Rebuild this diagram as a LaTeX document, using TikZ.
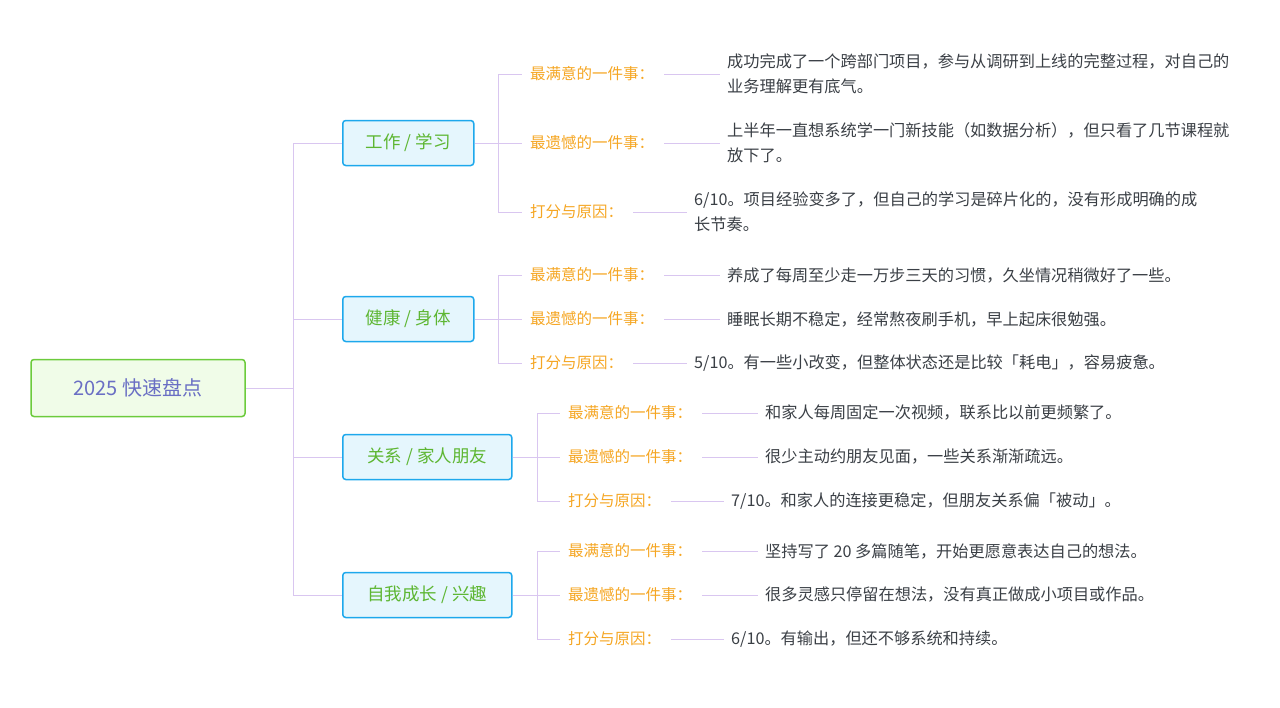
\documentclass[tikz,border=0pt]{standalone}
\usepackage{fontspec}
\setmainfont{Noto Sans CJK SC}
\definecolor{ln}{HTML}{D9C6F0}
\definecolor{rootb}{HTML}{6CCB3C}
\definecolor{rootf}{HTML}{F0FCE8}
\definecolor{roott}{HTML}{6A6FC4}
\definecolor{brb}{HTML}{1DA8EC}
\definecolor{brf}{HTML}{E5F6FD}
\definecolor{brt}{HTML}{5DB632}
\definecolor{lab}{HTML}{F5A623}
\definecolor{txt}{HTML}{3A3F45}
\begin{document}
\begin{tikzpicture}[x=1pt,y=-1pt,
 root/.style={draw=rootb,fill=rootf,line width=1.5pt,rounded corners=3pt,minimum width=214pt,minimum height=57pt,text=roott,font=\fontsize{20}{24}\selectfont},
 br/.style={draw=brb,fill=brf,line width=1.5pt,rounded corners=3pt,minimum height=45pt,text=brt,font=\fontsize{17.5}{21}\selectfont,anchor=west},
 lab/.style={text=lab,font=\fontsize{15.5}{19}\selectfont,anchor=west,inner sep=0pt},
 tx/.style={text=txt,font=\fontsize{16.2}{25}\selectfont,anchor=west,inner sep=0pt,align=left},
 con/.style={draw=ln,line width=1pt}]
\useasboundingbox (0,0) rectangle (1280,707);
\node[root] (r) at (138,388) {2025 快速盘点};
\node[br,minimum width=131pt] (b1) at (342,143) {工作 / 学习};
\node[br,minimum width=131pt] (b2) at (342,319) {健康 / 身体};
\node[br,minimum width=169pt] (b3) at (342,457) {关系 / 家人朋友};
\node[br,minimum width=169pt] (b4) at (342,595) {自我成长 / 兴趣};
\coordinate (j) at (293,388);
\draw[con] (r.east) -- (j);
\foreach \b in {b1,b2,b3,b4}{\draw[con] (j) |- (\b.west);}
% group 1
\node[lab] (l11) at (530,74) {最满意的一件事：};
\node[lab] (l12) at (530,143) {最遗憾的一件事：};
\node[lab] (l13) at (530,212) {打分与原因：};
\node[tx] (t11) at (727,74) {成功完成了一个跨部门项目，参与从调研到上线的完整过程，对自己的\\业务理解更有底气。};
\node[tx] (t12) at (727,143) {上半年一直想系统学一门新技能（如数据分析），但只看了几节课程就\\放下了。};
\node[tx] (t13) at (694,212) {6/10。项目经验变多了，但自己的学习是碎片化的，没有形成明确的成\\长节奏。};
% group 2
\node[lab] (l21) at (530,275) {最满意的一件事：};
\node[lab] (l22) at (530,319) {最遗憾的一件事：};
\node[lab] (l23) at (530,363) {打分与原因：};
\node[tx] (t21) at (727,275) {养成了每周至少走一万步三天的习惯，久坐情况稍微好了一些。};
\node[tx] (t22) at (727,319) {睡眠长期不稳定，经常熬夜刷手机，早上起床很勉强。};
\node[tx] (t23) at (694,363) {5/10。有一些小改变，但整体状态还是比较「耗电」，容易疲惫。};
% group 3
\node[lab] (l31) at (568,413) {最满意的一件事：};
\node[lab] (l32) at (568,457) {最遗憾的一件事：};
\node[lab] (l33) at (568,501) {打分与原因：};
\node[tx] (t31) at (765,413) {和家人每周固定一次视频，联系比以前更频繁了。};
\node[tx] (t32) at (765,457) {很少主动约朋友见面，一些关系渐渐疏远。};
\node[tx] (t33) at (731,501) {7/10。和家人的连接更稳定，但朋友关系偏「被动」。};
% group 4
\node[lab] (l41) at (568,551) {最满意的一件事：};
\node[lab] (l42) at (568,595) {最遗憾的一件事：};
\node[lab] (l43) at (568,639) {打分与原因：};
\node[tx] (t41) at (765,551) {坚持写了 20 多篇随笔，开始更愿意表达自己的想法。};
\node[tx] (t42) at (765,595) {很多灵感只停留在想法，没有真正做成小项目或作品。};
\node[tx] (t43) at (731,639) {6/10。有输出，但还不够系统和持续。};
\coordinate (j1) at (498,143);
\coordinate (j2) at (498,319);
\coordinate (j3) at (537,457);
\coordinate (j4) at (537,595);
\foreach \g in {1,2,3,4}{
 \draw[con] (b\g.east) -- (j\g);
 \foreach \k in {1,2,3}{
  \draw[con] (j\g) |- ([xshift=-8pt]l\g\k.west);
  \draw[con] ([xshift=10pt]l\g\k.east) -- ([xshift=-7pt]t\g\k.west);
 }}
\end{tikzpicture}
\end{document}
